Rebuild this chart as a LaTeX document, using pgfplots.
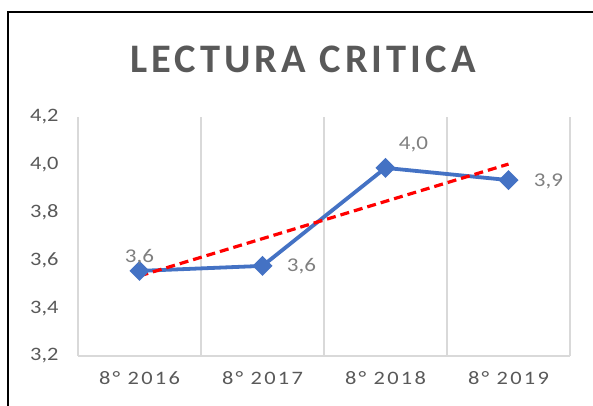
\documentclass[border=0pt]{standalone}
\usepackage{fontspec}
\setmainfont{Carlito}[FakeStretch=1.18]
\newfontfamily\titlefont{Carlito}
\usepackage{pgfplots}
\pgfplotsset{compat=1.18}
\definecolor{txtgray}{HTML}{595959}
\definecolor{lblgray}{HTML}{7F7F7F}
\definecolor{gridgray}{HTML}{D9D9D9}
\definecolor{lineblue}{HTML}{4472C4}
\begin{document}
\begin{tikzpicture}[x=1pt,y=1pt]
\useasboundingbox (0,0) rectangle (593,406);
\draw[line width=1.6pt,black] (8,-5) -- (8,394) -- (600,394);
\node[anchor=base, text=txtgray, inner sep=0pt, font=\titlefont\fontsize{40.5}{44}\selectfont\bfseries\addfontfeature{LetterSpace=10}] at (303,333) {LECTURA CRITICA};
\begin{axis}[
  at={(78pt,50pt)}, anchor=south west,
  scale only axis, width=492pt, height=239pt,
  xmin=0.5, xmax=4.5, ymin=3.2, ymax=4.2,
  axis x line*=bottom, axis y line*=left,
  x axis line style={gridgray, line width=1.5pt, -},
  y axis line style={draw=none},
  xtick={1,2,3,4},
  xticklabels={8° 2016,8° 2017,8° 2018,8° 2019},
  minor xtick={0.5,1.5,2.5,3.5,4.5},
  xminorgrids,
  minor grid style={gridgray, line width=1.5pt},
  major tick length=0pt, minor tick length=0pt,
  ytick={3.2,3.4,3.6,3.8,4.0,4.2},
  /pgf/number format/.cd, use comma, fixed, fixed zerofill, precision=1, assume math mode=true,
  /pgfplots/.cd,
  yticklabel style={text=txtgray, font=\fontsize{19}{21}\selectfont, xshift=-16pt},
  xticklabel style={text=txtgray, font=\fontsize{19}{21}\selectfont\addfontfeature{LetterSpace=12}, yshift=-12pt},
  clip=false,
]
\addplot[lineblue, line width=3.8pt, mark=square*, mark size=5.2pt, mark options={rotate=45, solid, fill=lineblue}] coordinates {(1,3.556)(2,3.577)(3,3.987)(4,3.936)};
\addplot[red, line width=3.2pt, dash pattern=on 9pt off 5pt] coordinates {(1,3.535)(4,4.003)};
\pgfplotsset{every node near coord/.style={text=lblgray, font=\fontsize{19.5}{22}\selectfont, anchor=center}}
\addplot[draw=none, mark=none, nodes near coords, point meta=y, nodes near coords style={yshift=14pt}] coordinates {(1,3.556)};
\addplot[draw=none, mark=none, nodes near coords, point meta=y, nodes near coords style={xshift=39pt}] coordinates {(2,3.577)};
\addplot[draw=none, mark=none, nodes near coords, point meta=y, nodes near coords style={xshift=28pt, yshift=23pt}] coordinates {(3,3.987)};
\addplot[draw=none, mark=none, nodes near coords, point meta=y, nodes near coords style={xshift=40pt, yshift=-1pt}] coordinates {(4,3.936)};
\end{axis}
\end{tikzpicture}
\end{document}
